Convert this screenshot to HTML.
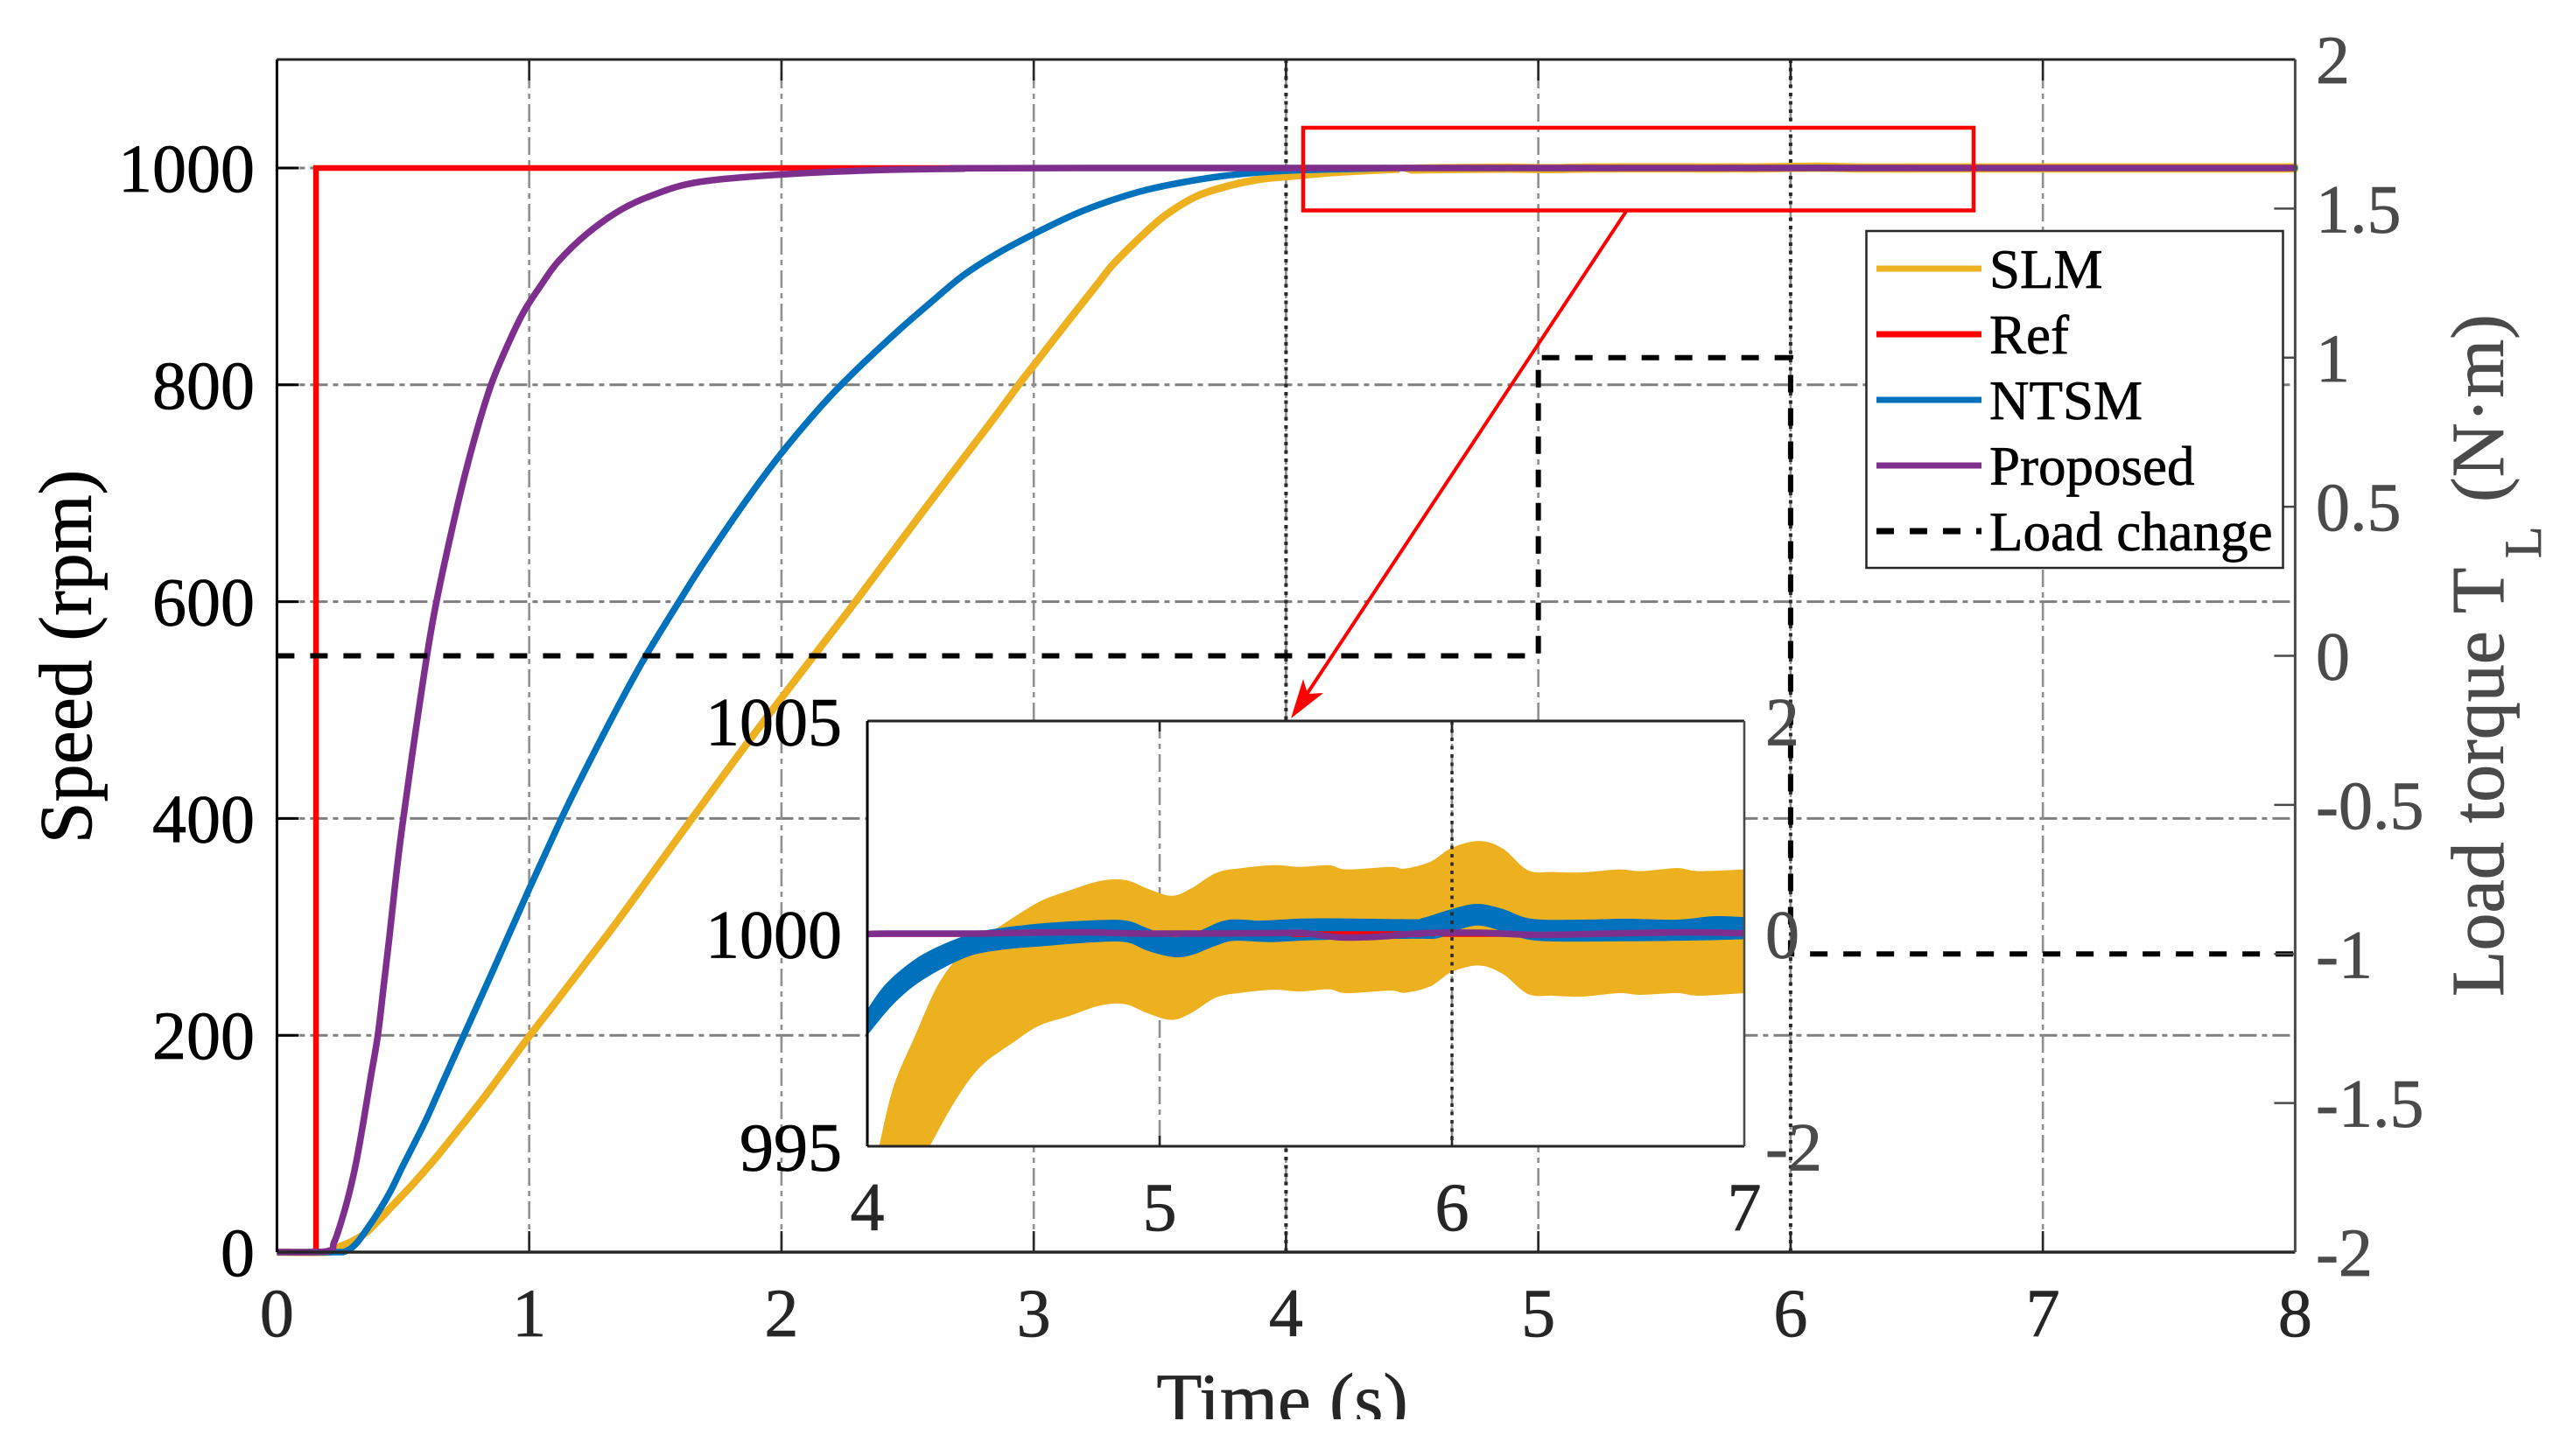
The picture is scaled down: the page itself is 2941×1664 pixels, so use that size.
<!DOCTYPE html>
<html lang="en">
<head>
<meta charset="utf-8">
<title>Speed and load torque response</title>
<style>
html,body{margin:0;padding:0;background:#fff;}
svg{display:block;}
text{font-family:"Liberation Serif","Times New Roman",serif;}
</style>
</head>
<body>
<svg id="chart" xmlns="http://www.w3.org/2000/svg" width="2941" height="1664" viewBox="0 0 2941 1664">
  <defs>
    <clipPath id="xlabel-clip"><rect x="1200" y="1540" width="600" height="82"/></clipPath>
  </defs>
  <rect x="0" y="0" width="2941" height="1664" fill="#fff"/>
  <g id="main-grid"></g>
  <g id="main-series"></g>
  <g id="main-axes"></g>
  <rect x="1489" y="146" width="766" height="94.5" fill="none" stroke="#ff0000" stroke-width="4.5"/>
  <line x1="1859" y1="240" x2="1490" y2="798" stroke="#ff0000" stroke-width="4"/>
  <polygon points="1475,821 1489,776 1494,793 1512,792" fill="#ff0000"/>
  <g id="legend">
    <rect x="2132.5" y="264" width="476" height="385" fill="#fff" stroke="#262626" stroke-width="2.5"/>
    <line x1="2144" y1="307" x2="2264" y2="307" stroke="#edb120" stroke-width="7"/>
    <text x="2273" y="329" font-size="63" fill="#000">SLM</text>
    <line x1="2144" y1="382" x2="2264" y2="382" stroke="#ff0000" stroke-width="7"/>
    <text x="2273" y="404" font-size="63" fill="#000">Ref</text>
    <line x1="2144" y1="457" x2="2264" y2="457" stroke="#0072bd" stroke-width="7"/>
    <text x="2273" y="479" font-size="63" fill="#000">NTSM</text>
    <line x1="2144" y1="532" x2="2264" y2="532" stroke="#7e2f8e" stroke-width="7"/>
    <text x="2273" y="554" font-size="63" fill="#000">Proposed</text>
    <line x1="2144" y1="607" x2="2264" y2="607" stroke="#000" stroke-width="7" stroke-dasharray="20 18"/>
    <text x="2273" y="629" font-size="63" fill="#000">Load change</text>
  </g>
  <g id="inset">
    <rect x="991" y="824" width="1002" height="486" fill="#fff"/>
  </g>
  <text transform="translate(104 750.5) rotate(-90)" text-anchor="middle" font-size="86" fill="#000">Speed (rpm)</text>
  <text x="1465" y="1628" text-anchor="middle" font-size="85" fill="#262626" clip-path="url(#xlabel-clip)">Time (s)</text>
  <text transform="translate(2860 1139) rotate(-90)" font-size="86" fill="#4a4a4a">Load torque T</text>
  <text transform="translate(2903 638) rotate(-90)" font-size="60" fill="#4a4a4a">L</text>
  <text transform="translate(2860 574) rotate(-90)" font-size="86" fill="#4a4a4a">(N·m)</text>
</svg>
<script>
// ---- Axis tick values ----
const xTicks = [0, 1, 2, 3, 4, 5, 6, 7, 8];
const yTicks = [0, 200, 400, 600, 800, 1000];
const loadTicks = ['-2', '-1.5', '-1', '-0.5', '0', '0.5', '1', '1.5', '2'];
const insetXTicks = [4, 5, 6, 7];
const insetYTicks = [995, 1000, 1005];
const insetLoadTicks = ['-2', '0', '2'];

// ---- Main chart series (time in s, speed in rpm) ----
const refT = [0, 0.155, 0.155, 8];
const refV = [0, 0, 1000, 1000];
const loadT = [0, 5, 5, 6, 6, 8];
const loadV = [0, 0, 1, 1, -1, -1];
const proposedT = [0, 0.197, 0.2265, 0.255, 0.284, 0.313, 0.342, 0.371, 0.40, 0.423, 0.446, 0.469, 0.498, 0.562, 0.624, 0.717, 0.783, 0.849, 0.917, 0.98, 1.05, 1.116, 1.227, 1.36, 1.49, 1.67, 2.0, 2.37, 2.7, 3.2, 8];
const proposedV = [0, 0.8, 9, 28, 52, 81.5, 119, 160, 200, 245, 291, 340, 395, 500, 590, 690, 750, 800, 838, 868, 893, 914, 939, 961, 975, 987, 994, 998, 999.3, 1000, 1000];
const ntsmT = [0, 0.22, 0.2727, 0.313, 0.359, 0.406, 0.452, 0.498, 0.544, 0.591, 0.637, 0.683, 0.741, 0.799, 0.857, 0.914, 0.96, 0.998, 1.053, 1.14, 1.227, 1.365, 1.47, 1.602, 1.689, 1.85, 2.0, 2.156, 2.271, 2.454, 2.587, 2.721, 2.855, 2.999, 3.159, 3.293, 3.45, 3.62, 3.79, 4.0, 4.4];
const ntsmV = [0, 0, 0.8, 7.5, 22, 38.5, 57, 79, 100, 122, 146, 170, 200, 230, 260, 290, 314, 334, 362, 406, 447, 509, 553, 603, 635, 690, 737, 780, 808, 848, 875, 901, 921, 939, 957, 969, 980, 988, 993.7, 997.5, 1000];
const slmT = [0, 0.2, 0.232, 0.29, 0.348, 0.406, 0.463, 0.544, 0.637, 0.73, 0.822, 0.914, 1.0, 1.1, 1.215, 1.33, 1.446, 1.608, 1.863, 2.128, 2.30, 2.563, 2.819, 2.953, 3.0, 3.147, 3.256, 3.318, 3.44, 3.525, 3.646, 3.78, 3.90, 4.0, 4.2, 4.45];
const slmV = [0, 0, 3.5, 9, 17, 30, 44, 64, 89, 116, 143, 172, 199, 229, 264, 299, 336, 388, 469, 550, 602, 684, 762, 804, 818, 862, 894, 912, 940, 957, 974, 984, 989.7, 992, 996, 999];

// ---- Inset envelopes, read from the zoomed view (time in s, speed in rpm) ----
const slmUpperT = [4.04, 4.089, 4.164, 4.238, 4.313, 4.362, 4.462, 4.586, 4.685, 4.797, 4.883, 4.958, 5.04, 5.107, 5.194, 5.28, 5.392, 5.479, 5.578, 5.64, 5.789, 5.839, 5.926, 6.0, 6.094, 6.174, 6.26, 6.347, 6.447, 6.571, 6.645, 6.769, 6.844, 7.0];
const slmUpperV = [995.0, 996.4, 997.62, 998.76, 999.49, 999.77, 1000.22, 1000.75, 1001.01, 1001.25, 1001.27, 1001.07, 1000.9, 1001.07, 1001.44, 1001.55, 1001.62, 1001.58, 1001.62, 1001.52, 1001.58, 1001.54, 1001.7, 1002.03, 1002.19, 1002.01, 1001.5, 1001.46, 1001.45, 1001.52, 1001.48, 1001.55, 1001.48, 1001.52];
const slmLowerT = [4.213, 4.30, 4.387, 4.499, 4.586, 4.685, 4.797, 4.883, 4.958, 5.04, 5.107, 5.194, 5.28, 5.392, 5.479, 5.578, 5.64, 5.789, 5.839, 5.926, 6.0, 6.094, 6.174, 6.26, 6.347, 6.447, 6.571, 6.645, 6.769, 6.844, 7.0];
const slmLowerV = [995.0, 996.07, 996.88, 997.45, 997.84, 998.06, 998.32, 998.35, 998.14, 997.98, 998.14, 998.51, 998.62, 998.69, 998.65, 998.7, 998.61, 998.67, 998.62, 998.77, 999.11, 999.26, 999.06, 998.59, 998.55, 998.53, 998.61, 998.57, 998.61, 998.55, 998.61];
const ntsmUpperT = [4.0, 4.065, 4.164, 4.263, 4.362, 4.462, 4.61, 4.759, 4.883, 4.958, 5.045, 5.13, 5.23, 5.355, 5.529, 5.851, 5.901, 6.0, 6.087, 6.174, 6.273, 6.447, 6.596, 6.769, 6.893, 7.0];
const ntsmUpperV = [998.23, 998.84, 999.41, 999.77, 1000.02, 1000.15, 1000.26, 1000.32, 1000.32, 1000.14, 999.93, 1000.06, 1000.33, 1000.32, 1000.37, 1000.35, 1000.38, 1000.59, 1000.71, 1000.59, 1000.36, 1000.34, 1000.36, 1000.34, 1000.42, 1000.4];
const ntsmLowerT = [4.0, 4.089, 4.189, 4.337, 4.462, 4.61, 4.759, 4.883, 4.958, 5.045, 5.107, 5.194, 5.256, 5.38, 5.504, 5.677, 5.876, 5.95, 6.0, 6.087, 6.174, 6.223, 6.323, 6.596, 6.844, 7.0];
const ntsmLowerV = [997.62, 998.35, 998.92, 999.45, 999.63, 999.72, 999.8, 999.81, 999.61, 999.46, 999.5, 999.73, 999.84, 999.81, 999.85, 999.88, 999.89, 999.9, 1000.04, 1000.2, 1000.06, 999.93, 999.83, 999.83, 999.85, 999.88];
const proposedInsetT = [4, 4.065, 4.362, 4.536, 4.759, 4.958, 5.355, 5.479, 5.553, 5.628, 5.752, 5.901, 6.099, 6.298, 6.596, 6.794, 7];
const proposedInsetV = [1000, 1000.01, 1000.01, 1000.03, 1000.04, 1000.01, 1000.02, 1000.03, 999.97, 999.92, 999.94, 1000.02, 1000.03, 999.98, 1000.02, 1000.04, 1000.02];
const refInsetT = [4, 7];
const refInsetV = [1000, 1000];
const refInsetVisibleT = [5.45, 5.9];
const refInsetVisibleV = [1000, 1000];

// ---- Axis functions ----
const X = t => 316.4 + t * 288.25;
const Y = v => 1431 - v * 1.239;
const YL = l => 1431 - (l + 2) * 340.75;
const IX = t => 991 + (t - 4) * 334;
const IY = v => 1067.5 - (v - 1000) * 48.6;
const ILY = l => 1067.5 - l * 121.5;

const NS = 'http://www.w3.org/2000/svg';
function mk(parent, tag, attrs, txt) {
  const el = document.createElementNS(NS, tag);
  for (const k in attrs) el.setAttribute(k, attrs[k]);
  if (txt !== undefined) el.textContent = txt;
  parent.appendChild(el);
  return el;
}
function linePath(ts, vs, fx, fy) {
  return ts.map((t, i) => (i ? 'L' : 'M') + fx(t).toFixed(2) + ' ' + fy(vs[i]).toFixed(2)).join(' ');
}
// Smooth curve through the data points (Catmull-Rom segments), continuing a path.
function smoothSegs(pts) {
  let d = '';
  for (let i = 0; i < pts.length - 1; i++) {
    const p0 = pts[Math.max(0, i - 1)], p1 = pts[i], p2 = pts[i + 1], p3 = pts[Math.min(pts.length - 1, i + 2)];
    const c1x = p1[0] + (p2[0] - p0[0]) / 6, c1y = p1[1] + (p2[1] - p0[1]) / 6;
    const c2x = p2[0] - (p3[0] - p1[0]) / 6, c2y = p2[1] - (p3[1] - p1[1]) / 6;
    d += ' C' + c1x.toFixed(2) + ' ' + c1y.toFixed(2) + ' ' + c2x.toFixed(2) + ' ' + c2y.toFixed(2) + ' ' + p2[0].toFixed(2) + ' ' + p2[1].toFixed(2);
  }
  return d;
}
function curvePath(ts, vs, fx, fy) {
  const pts = ts.map((t, i) => [fx(t), fy(vs[i])]);
  return 'M' + pts[0][0].toFixed(2) + ' ' + pts[0][1].toFixed(2) + smoothSegs(pts);
}
function bandPath(tU, vU, tL, vL, fx, fy) {
  const up = tU.map((t, i) => [fx(t), fy(vU[i])]);
  const lo = tL.map((t, i) => [fx(t), fy(vL[i])]).reverse();
  return 'M' + up[0][0].toFixed(2) + ' ' + up[0][1].toFixed(2) + smoothSegs(up) +
    ' L' + lo[0][0].toFixed(2) + ' ' + lo[0][1].toFixed(2) + smoothSegs(lo) + ' Z';
}
function tail(ts, vs, from) {
  const it = [], iv = [];
  ts.forEach((t, i) => { if (t >= from) { it.push(t); iv.push(vs[i]); } });
  it.push(8); iv.push(vs[vs.length - 1]);
  return [it, iv];
}

const DASHDOT = '20 6 6 6';
const DOTS = '4 5.5';
const gridG = document.getElementById('main-grid');
const seriesG = document.getElementById('main-series');
const axesG = document.getElementById('main-axes');
const insetG = document.getElementById('inset');

// ---- Main grid ----
yTicks.filter(v => v > 0).forEach(v => {
  const g = mk(gridG, 'line', {x1: X(0), x2: X(8), y1: Y(v), y2: Y(v), stroke: '#7f7f7f', 'stroke-width': 3, 'stroke-dasharray': DASHDOT});
  
  
});
xTicks.filter(t => t > 0 && t < 8).forEach(t => {
  const g = mk(gridG, 'line', {x1: X(t), x2: X(t), y1: Y(0), y2: 68, stroke: '#8f8f8f', 'stroke-width': 2.6, 'stroke-dasharray': DASHDOT});
  
  
  if (t === 4 || t === 6) {
    const d = mk(gridG, 'line', {x1: X(t), x2: X(t), y1: 68, y2: Y(0), stroke: '#2a2a2a', 'stroke-width': 4, 'stroke-dasharray': DOTS});
    
    
  }
});

// ---- Main series ----
const slmBandU = tail(slmUpperT, slmUpperV, 4.4);
const slmBandL = tail(slmLowerT, slmLowerV, 4.4);
const ntsmBandU = tail(ntsmUpperT, ntsmUpperV, 4.4);
const ntsmBandL = tail(ntsmLowerT, ntsmLowerV, 4.4);

const slmLine = mk(seriesG, 'path', {d: curvePath(slmT, slmV, X, Y), fill: 'none', stroke: '#edb120', 'stroke-width': 8.5, 'stroke-linejoin': 'round'});


const slmBand = mk(seriesG, 'path', {d: bandPath(slmBandU[0], slmBandU[1], slmBandL[0], slmBandL[1], X, Y), fill: '#edb120', stroke: '#edb120', 'stroke-width': 7, 'stroke-linejoin': 'round'});


const refLine = mk(seriesG, 'path', {d: linePath(refT, refV, X, Y), fill: 'none', stroke: '#ff0000', 'stroke-width': 6.5, 'stroke-linejoin': 'miter'});


const ntsmLine = mk(seriesG, 'path', {d: curvePath(ntsmT, ntsmV, X, Y), fill: 'none', stroke: '#0072bd', 'stroke-width': 7.5, 'stroke-linejoin': 'round'});


const ntsmBand = mk(seriesG, 'path', {d: bandPath(ntsmBandU[0], ntsmBandU[1], ntsmBandL[0], ntsmBandL[1], X, Y), fill: '#0072bd', stroke: '#0072bd', 'stroke-width': 6, 'stroke-linejoin': 'round'});


const propLine = mk(seriesG, 'path', {d: curvePath(proposedT, proposedV, X, Y), fill: 'none', stroke: '#7e2f8e', 'stroke-width': 7.5, 'stroke-linejoin': 'round'});


const loadLine = mk(seriesG, 'path', {d: linePath(loadT, loadV, X, YL), fill: 'none', stroke: '#000', 'stroke-width': 6, 'stroke-dasharray': '20 18'});



// ---- Main axes ----
const fTop = mk(axesG, 'line', {x1: X(0), x2: X(8), y1: 68, y2: 68, stroke: '#262626', 'stroke-width': 3});


const fBot = mk(axesG, 'line', {x1: X(0), x2: X(8), y1: Y(0), y2: Y(0), stroke: '#262626', 'stroke-width': 3.5});


const fLeft = mk(axesG, 'line', {x1: X(0), x2: X(0), y1: 68, y2: Y(0), stroke: '#000', 'stroke-width': 3});


const fRight = mk(axesG, 'line', {x1: X(8), x2: X(8), y1: 68, y2: Y(0), stroke: '#4a4a4a', 'stroke-width': 3});



xTicks.forEach(t => {
  if (t > 0 && t < 8) {
    const a = mk(axesG, 'line', {x1: X(t), x2: X(t), y1: Y(0), y2: Y(0) - 24, stroke: '#262626', 'stroke-width': 2.6});
    
    
    const b = mk(axesG, 'line', {x1: X(t), x2: X(t), y1: 68, y2: 92, stroke: '#262626', 'stroke-width': 2.6});
    
    
  }
  const l = mk(axesG, 'text', {x: X(t), y: 1527, 'text-anchor': 'middle', 'font-size': 78, fill: '#262626'}, String(t));
  
  
});
yTicks.forEach(v => {
  if (v > 0) {
    const a = mk(axesG, 'line', {x1: X(0), x2: X(0) + 25, y1: Y(v), y2: Y(v), stroke: '#000', 'stroke-width': 3});
    
    
  }
  const l = mk(axesG, 'text', {x: 291, y: Y(v) + 27, 'text-anchor': 'end', 'font-size': 78, fill: '#000'}, String(v));
  
  
});
loadTicks.forEach(s => {
  const val = parseFloat(s);
  if (Math.abs(val) < 2) {
    const a = mk(axesG, 'line', {x1: X(8), x2: X(8) - 24, y1: YL(val), y2: YL(val), stroke: '#4a4a4a', 'stroke-width': 2.6});
    
    
  }
  const l = mk(axesG, 'text', {x: 2646, y: YL(val) + 27, 'font-size': 78, fill: '#4a4a4a'}, s);
  
  
});

// ---- Inset ----
insetXTicks.filter(t => t > 4 && t < 7).forEach(t => {
  const g = mk(insetG, 'line', {x1: IX(t), x2: IX(t), y1: 824, y2: 1310, stroke: '#8f8f8f', 'stroke-width': 2.6, 'stroke-dasharray': DASHDOT});
  
  
});
const insetSlm = mk(insetG, 'path', {d: bandPath(slmUpperT, slmUpperV, slmLowerT, slmLowerV, IX, IY), fill: '#edb120', stroke: 'none'});


const insetRef = mk(insetG, 'path', {d: linePath(refInsetT, refInsetV, IX, IY), fill: 'none', stroke: '#ff0000', 'stroke-width': 6.5});


const insetNtsm = mk(insetG, 'path', {d: bandPath(ntsmUpperT, ntsmUpperV, ntsmLowerT, ntsmLowerV, IX, IY), fill: '#0072bd', stroke: 'none'});


const insetRefTop = mk(insetG, 'path', {d: linePath(refInsetVisibleT, refInsetVisibleV, IX, IY), fill: 'none', stroke: '#ff0000', 'stroke-width': 6.5});


const insetProp = mk(insetG, 'path', {d: curvePath(proposedInsetT, proposedInsetV, IX, IY), fill: 'none', stroke: '#7e2f8e', 'stroke-width': 7.5, 'stroke-linejoin': 'round'});


const insetDots = mk(insetG, 'line', {x1: IX(6), x2: IX(6), y1: 824, y2: 1310, stroke: '#2a2a2a', 'stroke-width': 3.5, 'stroke-dasharray': DOTS});



const iTop = mk(insetG, 'line', {x1: 991, x2: 1993, y1: 824, y2: 824, stroke: '#262626', 'stroke-width': 3});


const iBot = mk(insetG, 'line', {x1: 991, x2: 1993, y1: 1310, y2: 1310, stroke: '#262626', 'stroke-width': 3});


const iLeft = mk(insetG, 'line', {x1: 991, x2: 991, y1: 824, y2: 1310, stroke: '#000', 'stroke-width': 3});


const iRight = mk(insetG, 'line', {x1: 1993, x2: 1993, y1: 824, y2: 1310, stroke: '#4a4a4a', 'stroke-width': 2.6});



insetXTicks.forEach(t => {
  if (t > 4 && t < 7) {
    const a = mk(insetG, 'line', {x1: IX(t), x2: IX(t), y1: 1310, y2: 1298, stroke: '#262626', 'stroke-width': 2.6});
    
    
    const b = mk(insetG, 'line', {x1: IX(t), x2: IX(t), y1: 824, y2: 836, stroke: '#262626', 'stroke-width': 2.6});
    
    
  }
  const l = mk(insetG, 'text', {x: IX(t), y: 1406, 'text-anchor': 'middle', 'font-size': 78, fill: '#262626'}, String(t));
  
  
});
insetYTicks.forEach(v => {
  const l = mk(insetG, 'text', {x: 962, y: IY(v) + 27, 'text-anchor': 'end', 'font-size': 78, fill: '#000'}, String(v));
  
  
});
insetLoadTicks.forEach(s => {
  const l = mk(insetG, 'text', {x: 2017, y: ILY(parseFloat(s)) + 27, 'font-size': 78, fill: '#4a4a4a'}, s);
  
  
});

// Slightly heavier glyph edges, matching the weight of the reference text.
document.querySelectorAll('text').forEach(el => {
  el.setAttribute('stroke', el.getAttribute('fill'));
  el.setAttribute('stroke-width', '0.7');
});
</script>
</body>
</html>
